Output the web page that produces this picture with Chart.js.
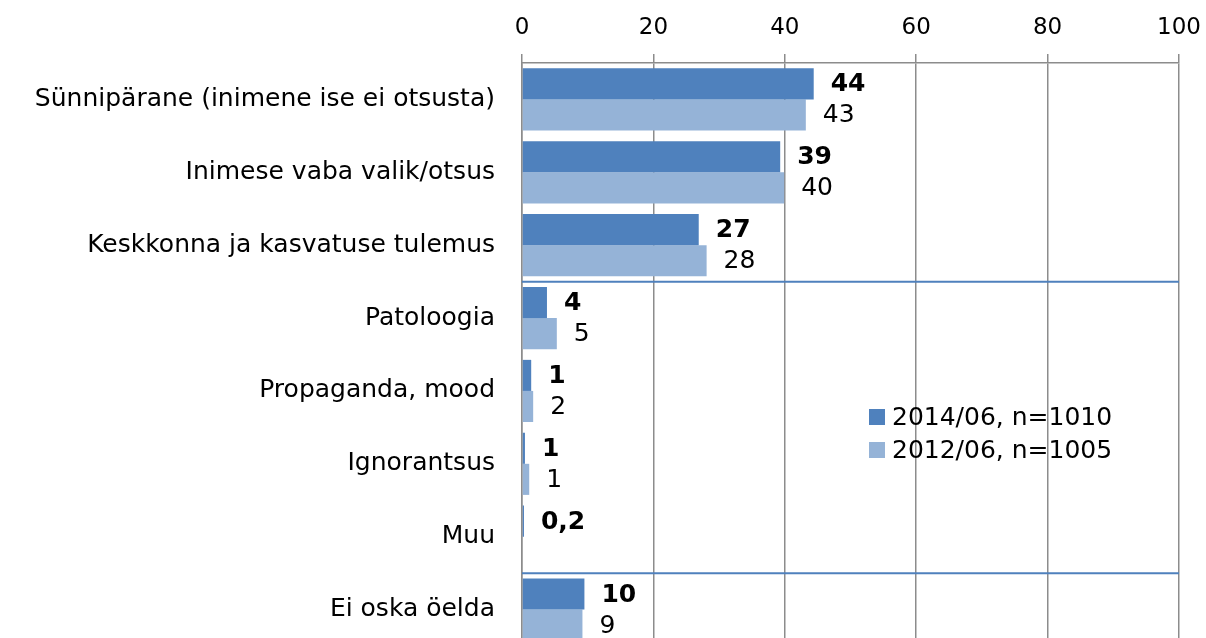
<!DOCTYPE html>
<html>
<head>
<meta charset="utf-8">
<script src="https://cdn.jsdelivr.net/npm/chart.js@4/dist/chart.umd.min.js"></script>
<style>
html,body{margin:0;padding:0;background:#fff;overflow:hidden;}
canvas{display:block;}
</style>
</head>
<body>
<canvas id="c" width="1206" height="646" style="width:1206px;height:646px;"></canvas>
<script>
const categories = [
  'Sünnipärane (inimene ise ei otsusta)',
  'Inimese vaba valik/otsus',
  'Keskkonna ja kasvatuse tulemus',
  'Patoloogia',
  'Propaganda, mood',
  'Ignorantsus',
  'Muu',
  'Ei oska öelda'
];
const seriesNames = ['2014/06, n=1010', '2012/06, n=1005'];
const values2014 = [44.4, 39.3, 26.9, 3.8, 1.4, 0.45, 0.3, 9.5];
const values2012 = [43.2, 39.9, 28.1, 5.3, 1.7, 1.1, null, 9.2];
const labels2014 = ['44', '39', '27', '4', '1', '1', '0,2', '10'];
const labels2012 = ['43', '40', '28', '5', '2', '1', '', '9'];
const xTicks = [0, 20, 40, 60, 80, 100];
const separatorsAfter = [2, 6];

const FONT = 'DejaVu Sans';
const dark = '#4F81BD';
const light = '#95B3D7';

const dataLabelPlugin = {
  id: 'dataLabels',
  afterDatasetsDraw(chart) {
    const ctx = chart.ctx;
    const sets = [labels2014, labels2012];
    chart.data.datasets.forEach((ds, di) => {
      const meta = chart.getDatasetMeta(di);
      meta.data.forEach((bar, i) => {
        const txt = sets[di][i];
        if (!txt) return;
        ctx.save();
        ctx.fillStyle = '#000';
        ctx.font = (di === 0 ? 'bold ' : '') + '25px "' + FONT + '"';
        ctx.textAlign = 'left';
        ctx.textBaseline = 'middle';
        const x = chart.scales.x.getPixelForValue(ds.data[i] || 0) + 17;
        ctx.fillText(txt, x, bar.y + 1);
        ctx.restore();
      });
    });
  }
};

const separatorPlugin = {
  id: 'separators',
  afterDatasetsDraw(chart) {
    const ctx = chart.ctx;
    const y = chart.scales.y;
    const a = chart.chartArea;
    ctx.save();
    ctx.strokeStyle = dark;
    ctx.lineWidth = 2;
    separatorsAfter.forEach(i => {
      const py = (y.getPixelForValue(i) + y.getPixelForValue(i + 1)) / 2;
      ctx.beginPath();
      ctx.moveTo(a.left, py);
      ctx.lineTo(a.right, py);
      ctx.stroke();
    });
    ctx.restore();
  }
};

const legendPlugin = {
  id: 'innerLegend',
  afterDraw(chart) {
    const ctx = chart.ctx;
    const x0 = 869, y0 = 417, step = 33;
    ctx.save();
    chart.data.datasets.forEach((ds, i) => {
      const cy = y0 + i * step;
      ctx.fillStyle = ds.backgroundColor;
      ctx.fillRect(x0, cy - 8, 16, 16);
      ctx.fillStyle = '#000';
      ctx.font = '25px "' + FONT + '"';
      ctx.textAlign = 'left';
      ctx.textBaseline = 'middle';
      ctx.fillText(ds.label, x0 + 23, cy + 1);
    });
    ctx.restore();
  }
};

new Chart(document.getElementById('c'), {
  type: 'bar',
  data: {
    labels: categories,
    datasets: [
      { label: seriesNames[0], data: values2014, backgroundColor: dark },
      { label: seriesNames[1], data: values2012, backgroundColor: light }
    ]
  },
  options: {
    indexAxis: 'y',
    responsive: false,
    maintainAspectRatio: false,
    animation: false,
    devicePixelRatio: 1,
    datasets: { bar: { categoryPercentage: 0.853, barPercentage: 1.0 } },
    layout: { padding: { left: 0, right: 27, top: 0, bottom: 0 } },
    plugins: { legend: { display: false }, tooltip: { enabled: false } },
    scales: {
      x: {
        position: 'top',
        min: 0, max: 100,
        afterBuildTicks(s) { s.ticks = xTicks.map(v => ({ value: v })); },
        afterFit(s) { s.height = 63; s.paddingLeft = 0; s.paddingRight = 0; },
        ticks: { color: '#000', font: { family: FONT, size: 23 }, padding: 12 },
        grid: { color: '#8c8c8c', lineWidth: 1.5, tickLength: 9, drawTicks: true },
        border: { color: '#8c8c8c', width: 1.5 }
      },
      y: {
        afterFit(s) { s.width = 522; s.paddingTop = 0; s.paddingBottom = 0; },
        ticks: { color: '#000', font: { family: FONT, size: 25 }, padding: 19 },
        grid: { display: false },
        border: { color: '#8c8c8c', width: 1.5 }
      }
    }
  },
  plugins: [separatorPlugin, dataLabelPlugin, legendPlugin]
});
</script>
</body>
</html>
